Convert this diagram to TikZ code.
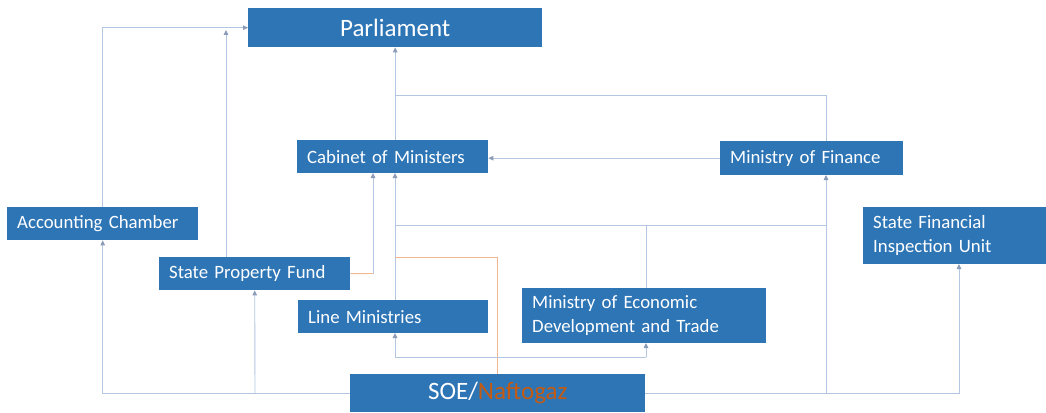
\documentclass[tikz,border=0pt]{standalone}
\usepackage{fontspec}
\setmainfont{Carlito}
\usetikzlibrary{arrows.meta,calc}
\definecolor{boxblue}{HTML}{2E75B6}
\definecolor{linec}{HTML}{B4C7E2}
\definecolor{tipc}{HTML}{8A9CB8}
\definecolor{orangec}{HTML}{F2B690}
\definecolor{soeorange}{HTML}{C55A11}
\begin{document}
\begin{tikzpicture}[x=1pt,y=-1pt,
  box/.style={fill=boxblue,text=white,anchor=north west,inner xsep=10pt,inner ysep=0pt,
    align=left,font=\fontsize{18.8}{24.5}\selectfont},
  bigbox/.style={box,align=center,font=\fontsize{25}{28}\selectfont},
  conn/.style={draw=linec,line width=0.9pt},
  arr/.style={conn,-{Triangle[length=5pt,width=4.5pt,color=tipc]}},
  oconn/.style={draw=orangec,line width=0.9pt},
]
\useasboundingbox[fill=white] (0,0) rectangle (1046,412);

% boxes
\node[bigbox,text width=274pt,minimum height=39pt] (parl) at (248,8) {Parliament};
\node[box,text width=171pt,minimum height=33pt] (cab) at (297,140) {Cabinet of Ministers};
\node[box,text width=163pt,minimum height=34pt] (mof) at (720,141) {Ministry of Finance};
\node[box,text width=171pt,minimum height=33pt] (acc) at (7,207) {Accounting Chamber};
\node[box,text width=163pt,minimum height=57pt] (sfiu) at (863,207) {State Financial\\Inspection Unit};
\node[box,text width=171pt,minimum height=33pt] (spf) at (159,257) {State Property Fund};
\node[box,text width=170pt,minimum height=33pt] (lm) at (298,300) {Line Ministries};
\node[box,text width=224pt,minimum height=55pt] (medt) at (522,288) {Ministry of Economic\\Development and Trade};
\node[bigbox,text width=275pt,minimum height=38pt] (soe) at (350,374) {SOE/\textcolor{soeorange}{Naftogaz}};

% helper coordinates
\coordinate (spfN) at (226,257);
\coordinate (spfTop) at (226,30);
\coordinate (mofN) at (826,141);
\coordinate (mofS) at (826,175);
\coordinate (parlJ) at (395,95);
\coordinate (spfE) at (373,273.5);
\coordinate (cabS1) at (373,173);
\coordinate (cabS2) at (395,173);
\coordinate (lmN) at (395,300);
\coordinate (lmS) at (395,333);
\coordinate (midL) at (395,225);
\coordinate (midR) at (826,225);
\coordinate (medtN) at (646,288);
\coordinate (medtS) at (646,343);
\coordinate (lowL) at (395,357);
\coordinate (lowR) at (646,357);
\coordinate (soeN) at (497,374);
\coordinate (orgL) at (395,257);
\coordinate (botM) at (826,393);
\coordinate (botS) at (255,393);
\coordinate (sfiuS) at (959,264);

% connectors to Parliament
\draw[arr] (acc.north) |- (parl.west);
\draw[arr] (spfN) -- (spfTop);
\draw[arr] (cab.north -| parl.south) -- (parl.south);
\draw[conn] (mofN) |- (parlJ);

% to Cabinet
\draw[arr] (mof.west) -- (mof.west -| cab.east);
\draw[oconn] (spf.east) -- (spfE);
\draw[arr] (spfE) -- (cabS1);
\draw[arr] (lmN) -- (cabS2);

% middle line
\draw[conn] (midL) -- (midR);
\draw[conn] (medtN) -- (medtN |- midL);

% SOE orange link
\draw[oconn] (soeN) |- (orgL);

% lower line to Line Ministries and MEDT
\draw[conn] (lowL) -- (lowR);
\draw[arr] (lowL) -- (lmS);
\draw[arr] (lowR) -- (medtS);

% bottom line
\draw[arr] (soe.west) -| (acc.south);
\draw[arr] (botS) -- (spf.south);
\draw[arr] (soe.east) -| (sfiuS);
\draw[arr] (botM) -- (mofS);
\end{tikzpicture}
\end{document}
